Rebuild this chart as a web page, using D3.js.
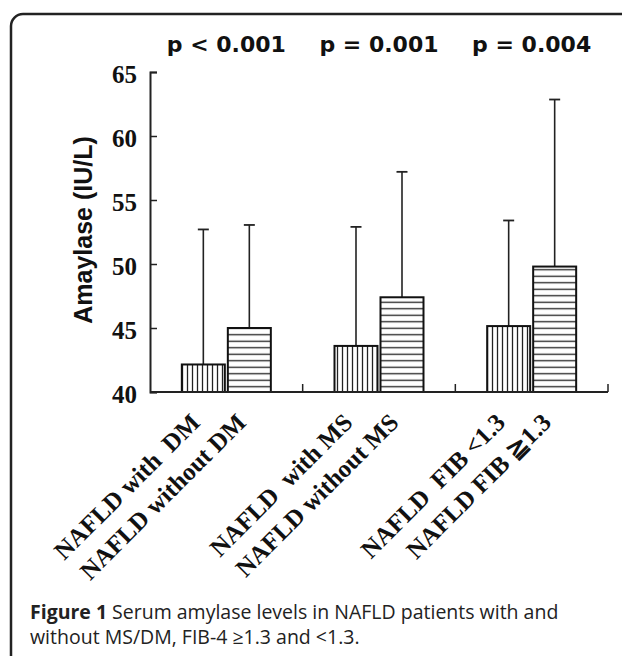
<!DOCTYPE html>
<html>
<head>
<meta charset="utf-8">
<script src="https://cdn.jsdelivr.net/npm/d3@7"></script>
<style>
  body { margin: 0; background: #fff; }
  svg { display: block; }
</style>
</head>
<body>
<div class="chart"></div>
<script>
const groups = ["DM", "MS", "FIB"];
const pValues = ["p < 0.001", "p = 0.001", "p = 0.004"];
const categories = [
  "NAFLD with  DM",
  "NAFLD without DM",
  "NAFLD  with MS",
  "NAFLD without MS",
  "NAFLD  FIB <1.3",
  "NAFLD FIB \u22671.3",
];
const barGroup = ["DM", "DM", "MS", "MS", "FIB", "FIB"];
const barPattern = ["vert", "horiz", "vert", "horiz", "vert", "horiz"];
const means = [42.15, 45.0, 43.6, 47.4, 45.15, 49.8];
const upperSd = [52.7, 53.05, 52.9, 57.2, 53.4, 62.85];
const yTicks = [40, 45, 50, 55, 60, 65];

const W = 622, H = 656;
const x0 = 150, x1 = 608, yTop = 72, yBottom = 392;

const svg = d3
  .select(".chart")
  .append("svg")
  .attr("width", W)
  .attr("height", H);

// hatch patterns
const defs = svg.append("defs");
const vp = defs
  .append("pattern")
  .attr("id", "vert")
  .attr("patternUnits", "userSpaceOnUse")
  .attr("width", 5)
  .attr("height", 10);
vp.append("rect").attr("width", 5).attr("height", 10).attr("fill", "#fff");
vp.append("line")
  .attr("x1", 2.5).attr("x2", 2.5).attr("y1", 0).attr("y2", 10)
  .attr("stroke", "#222").attr("stroke-width", 1.3);

const hp = defs
  .append("pattern")
  .attr("id", "horiz")
  .attr("patternUnits", "userSpaceOnUse")
  .attr("width", 10)
  .attr("height", 6.5);
hp.append("rect").attr("width", 10).attr("height", 6.5).attr("fill", "#fff");
hp.append("line")
  .attr("x1", 0).attr("x2", 10).attr("y1", 3.25).attr("y2", 3.25)
  .attr("stroke", "#222").attr("stroke-width", 1.3);

// frame
svg
  .append("path")
  .attr("d", "M11,656 L11,26 A12,12 0 0 1 23,14 L622,14")
  .attr("fill", "none")
  .attr("stroke", "#222")
  .attr("stroke-width", 2.5);

const xGroup = d3.scaleBand().domain(groups).range([x0, x1]);
const barW = 43, gap = 3;

const yScale = d3.scaleLinear().domain([40, 65]).range([yBottom, yTop]);

function barX(i) {
  const c = xGroup(barGroup[i]) + xGroup.bandwidth() / 2;
  const first = barGroup.indexOf(barGroup[i]) === i;
  return first ? c - gap / 2 - barW : c + gap / 2;
}

const idx = d3.range(categories.length);

// error bars (upper only)
svg
  .selectAll(".whisker")
  .data(idx)
  .enter()
  .append("line")
  .attr("x1", (i) => barX(i) + barW / 2)
  .attr("x2", (i) => barX(i) + barW / 2)
  .attr("y1", (i) => yScale(means[i]))
  .attr("y2", (i) => yScale(upperSd[i]))
  .attr("stroke", "#222")
  .attr("stroke-width", 1.6);

svg
  .selectAll(".cap")
  .data(idx)
  .enter()
  .append("line")
  .attr("x1", (i) => barX(i) + barW / 2 - 5.5)
  .attr("x2", (i) => barX(i) + barW / 2 + 5.5)
  .attr("y1", (i) => yScale(upperSd[i]))
  .attr("y2", (i) => yScale(upperSd[i]))
  .attr("stroke", "#222")
  .attr("stroke-width", 1.8);

// bars
svg
  .selectAll(".bar")
  .data(idx)
  .enter()
  .append("rect")
  .attr("x", (i) => barX(i))
  .attr("y", (i) => yScale(means[i]))
  .attr("width", barW)
  .attr("height", (i) => yBottom - yScale(means[i]))
  .attr("fill", (i) => `url(#${barPattern[i]})`)
  .attr("stroke", "#111")
  .attr("stroke-width", 2);

// y axis
const yAxis = svg
  .append("g")
  .attr("transform", `translate(${x0},0)`)
  .call(d3.axisLeft(yScale).tickValues(yTicks).tickSize(-7).tickPadding(13));
yAxis.select(".domain").attr("stroke", "#222").attr("stroke-width", 2);
yAxis.selectAll(".tick line").attr("stroke", "#222").attr("stroke-width", 1.5);
yAxis
  .selectAll(".tick text")
  .attr("fill", "#111")
  .attr("dy", "0.4em")
  .style("font-family", "'Liberation Serif', 'Times New Roman', serif")
  .style("font-weight", "bold")
  .style("font-size", "25px");

// x axis: line with small upward ticks at group boundaries
svg
  .append("line")
  .attr("x1", x0).attr("x2", x1)
  .attr("y1", yBottom).attr("y2", yBottom)
  .attr("stroke", "#222")
  .attr("stroke-width", 2);

svg
  .selectAll(".gtick")
  .data(groups)
  .enter()
  .append("line")
  .attr("x1", (g) => xGroup(g) + xGroup.bandwidth())
  .attr("x2", (g) => xGroup(g) + xGroup.bandwidth())
  .attr("y1", yBottom)
  .attr("y2", yBottom - 8)
  .attr("stroke", "#222")
  .attr("stroke-width", 1.5);

// category labels
svg
  .selectAll(".xlabel")
  .data(idx)
  .enter()
  .append("text")
  .attr("transform", (i) => `translate(${barX(i) + barW / 2 - 2},${yBottom + 32}) rotate(-45)`)
  .attr("text-anchor", "end")
  .attr("xml:space", "preserve")
  .style("font-family", "'Liberation Serif', 'Times New Roman', serif")
  .style("font-weight", "bold")
  .style("font-size", "25px")
  .attr("fill", "#111")
  .text((i) => categories[i]);

// p values
svg
  .selectAll(".pval")
  .data(groups)
  .enter()
  .append("text")
  .attr("x", (g) => xGroup(g) + xGroup.bandwidth() / 2)
  .attr("y", 52)
  .attr("text-anchor", "middle")
  .style("font-family", "'DejaVu Sans', sans-serif")
  .style("font-weight", "bold")
  .style("font-size", "22px")
  .attr("fill", "#111")
  .text((g, i) => pValues[i]);

// y title
svg
  .append("text")
  .attr("transform", `translate(92,${(yTop + yBottom) / 2 - 2}) rotate(-90)`)
  .attr("text-anchor", "middle")
  .style("font-family", "'Liberation Sans', Arial, sans-serif")
  .style("font-weight", "bold")
  .style("font-size", "25px")
  .attr("fill", "#111")
  .text("Amaylase (IU/L)");

// caption
const capFont = "19.5px";
const capBold = svg
  .append("text")
  .attr("x", 30)
  .attr("y", 619)
  .style("font-family", "'Open Sans', sans-serif")
  .style("font-size", capFont)
  .style("font-weight", "bold")
  .attr("fill", "#222")
  .text("Figure 1");
const boldW = capBold.node().getComputedTextLength();
svg
  .append("text")
  .attr("x", 30 + boldW + 5)
  .attr("y", 619)
  .style("font-family", "'Open Sans', sans-serif")
  .style("font-size", capFont)
  .attr("fill", "#222")
  .text("Serum amylase levels in NAFLD patients with and");
svg
  .append("text")
  .attr("x", 30)
  .attr("y", 644)
  .style("font-family", "'Open Sans', sans-serif")
  .style("font-size", capFont)
  .attr("fill", "#222")
  .text("without MS/DM, FIB-4 \u22651.3 and <1.3.");
</script>
</body>
</html>
